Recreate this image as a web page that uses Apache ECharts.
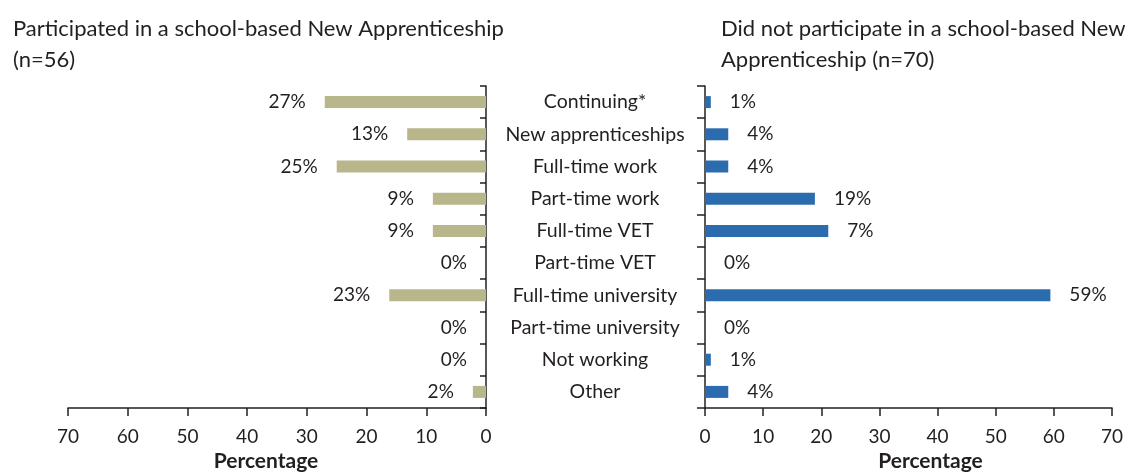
<!DOCTYPE html>
<html>
<head>
<meta charset="utf-8">
<script src="https://cdn.jsdelivr.net/npm/echarts@6/dist/echarts.min.js"></script>
<style>
  html, body { margin: 0; padding: 0; background: #fff; }
  #chart { width: 1135px; height: 474px; }
</style>
</head>
<body>
<div id="chart"></div>
<script>
// categories (top to bottom)
var categories = ['Continuing*', 'New apprenticeships', 'Full-time work', 'Part-time work',
  'Full-time VET', 'Part-time VET', 'Full-time university', 'Part-time university',
  'Not working', 'Other'];

// bar lengths as drawn, and the printed labels
var schoolValues = [27, 13.2, 25, 8.9, 8.9, 0, 16.2, 0, 0, 2.2];
var schoolLabels = ['27%', '13%', '25%', '9%', '9%', '0%', '23%', '0%', '0%', '2%'];
var otherValues = [1, 4, 4, 18.9, 21.2, 0, 59.4, 0, 1, 4];
var otherLabels = ['1%', '4%', '4%', '19%', '7%', '0%', '59%', '0%', '1%', '4%'];

var xTicks = { min: 0, max: 70, interval: 10 };

var textColor = '#231f20';
var axisColor = '#231f20';
var bodyFont = 'Lato';

var chart = echarts.init(document.getElementById('chart'));

function valueAxis(gridIndex, inverse, nameShift) {
  return {
    type: 'value',
    gridIndex: gridIndex,
    inverse: inverse,
    min: xTicks.min, max: xTicks.max, interval: xTicks.interval,
    splitLine: { show: false },
    axisLine: { show: true, lineStyle: { color: axisColor, width: 1.5 } },
    axisTick: { show: true, length: 8, lineStyle: { color: axisColor, width: 1.5 } },
    axisLabel: { color: textColor, fontSize: 19, fontFamily: bodyFont, margin: 19 },
    name: 'Percentage',
    nameLocation: 'middle',
    nameGap: 42,
    nameTextStyle: { color: textColor, fontSize: 21, fontFamily: bodyFont, fontWeight: 'bold',
      padding: nameShift }
  };
}

chart.setOption({
  animation: false,
  title: [
    {
      text: 'Participated in a school-based New Apprenticeship\n(n=56)',
      left: 8, top: 8,
      textStyle: { color: textColor, fontSize: 22, fontWeight: 'normal', fontFamily: bodyFont, lineHeight: 31 }
    },
    {
      text: 'Did not participate in a school-based New\nApprenticeship (n=70)',
      left: 716, top: 8,
      textStyle: { color: textColor, fontSize: 22, fontWeight: 'normal', fontFamily: bodyFont, lineHeight: 31 }
    }
  ],
  grid: [
    { left: 68, top: 86, width: 418, height: 322, outerBoundsMode: 'none' },
    { left: 705, top: 86, width: 407, height: 322, outerBoundsMode: 'none' }
  ],
  xAxis: [
    valueAxis(0, true, [0, 22, 0, 0]),
    valueAxis(1, false, [0, 0, 0, 44])
  ],
  yAxis: [
    {
      type: 'category', gridIndex: 0, data: categories, inverse: true, position: 'right',
      axisLine: { show: true, lineStyle: { color: axisColor, width: 1.5 } },
      axisTick: { show: true, inside: true, length: 6, lineStyle: { color: axisColor, width: 1.5 } },
      axisLabel: { color: textColor, fontSize: 19.5, fontFamily: bodyFont, align: 'center', margin: 109 }
    },
    {
      type: 'category', gridIndex: 1, data: categories, inverse: true, position: 'left',
      axisLine: { show: true, lineStyle: { color: axisColor, width: 1.5 } },
      axisTick: { show: true, length: 8, lineStyle: { color: axisColor, width: 1.5 } },
      axisLabel: { show: false }
    }
  ],
  series: [
    {
      type: 'bar', xAxisIndex: 0, yAxisIndex: 0, data: schoolValues, barWidth: 12,
      itemStyle: { color: '#b8b68a' },
      label: {
        show: true, position: 'left', distance: 19, color: textColor, fontSize: 19, fontFamily: bodyFont,
        formatter: function (p) { return schoolLabels[p.dataIndex]; }
      }
    },
    {
      type: 'bar', xAxisIndex: 1, yAxisIndex: 1, data: otherValues, barWidth: 12,
      itemStyle: { color: '#2b6cae' },
      label: {
        show: true, position: 'right', distance: 19, color: textColor, fontSize: 19, fontFamily: bodyFont,
        formatter: function (p) { return otherLabels[p.dataIndex]; }
      }
    }
  ]
});
</script>
</body>
</html>
